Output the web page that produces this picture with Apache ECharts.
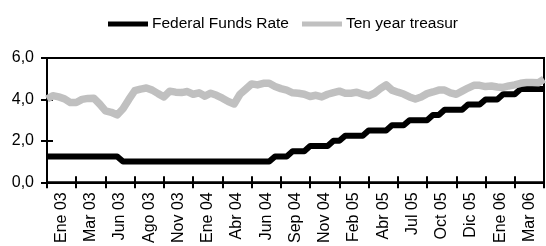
<!DOCTYPE html>
<html>
<head>
<meta charset="utf-8">
<script src="https://cdn.jsdelivr.net/npm/echarts@6/dist/echarts.min.js"></script>
<style>
html,body{margin:0;padding:0;background:#fff;}
#chart{width:546px;height:246px;}
</style>
</head>
<body>
<div id="chart"></div>
<script>
var monthLabels = ["Ene 03","Mar 03","Jun 03","Ago 03","Nov 03","Ene 04","Abr 04","Jun 04","Sep 04","Nov 04","Feb 05","Abr 05","Jul 05","Oct 05","Dic 05","Ene 06","Mar 06"];
var seriesNames = ["Federal Funds Rate","Ten year treasur"];
var seriesColors = ["#000000", "#c0c0c0"];
var yTicks = [0, 2, 4, 6];

var fedFunds = [
  1.25,1.25,1.25,1.25,1.25,1.25,1.25,1.25,1.25,1.25,1.25,1.25,1.25,
  1.0,1.0,1.0,1.0,1.0,1.0,1.0,1.0,1.0,1.0,1.0,1.0,1.0,1.0,1.0,1.0,1.0,1.0,1.0,1.0,1.0,1.0,1.0,1.0,1.0,1.0,
  1.25,1.25,1.25,
  1.5,1.5,1.5,
  1.75,1.75,1.75,1.75,
  2.0,2.0,
  2.25,2.25,2.25,2.25,
  2.5,2.5,2.5,2.5,
  2.75,2.75,2.75,
  3.0,3.0,3.0,3.0,
  3.25,3.25,
  3.5,3.5,3.5,3.5,
  3.75,3.75,3.75,
  4.0,4.0,4.0,
  4.25,4.25,4.25,
  4.5,4.5,4.5,4.5,4.5
];

var tenYear = [
  4.02,4.18,4.12,4.03,3.85,3.85,4.00,4.05,4.06,3.78,
  3.45,3.38,3.25,3.55,4.00,4.42,4.50,4.55,4.45,4.28,
  4.12,4.40,4.35,4.33,4.38,4.25,4.32,4.16,4.30,4.20,
  4.06,3.90,3.78,4.25,4.50,4.75,4.70,4.78,4.78,4.62,
  4.52,4.45,4.32,4.30,4.25,4.14,4.20,4.12,4.25,4.33,
  4.40,4.30,4.30,4.35,4.25,4.18,4.30,4.52,4.70,4.45,
  4.35,4.26,4.12,4.02,4.12,4.28,4.36,4.45,4.45,4.32,
  4.25,4.40,4.55,4.68,4.68,4.62,4.65,4.60,4.58,4.65,
  4.70,4.78,4.82,4.82,4.80,4.98
];

var pointIndex = fedFunds.map(function (_, i) { return String(i); });
var FONT = 'Liberation Sans, Arial, sans-serif';

var chart = echarts.init(document.getElementById('chart'), null, {renderer: 'canvas'});
chart.setOption({
  animation: false,
  backgroundColor: '#fff',
  legend: {
    left: 103,
    top: 11,
    itemWidth: 40,
    itemHeight: 5,
    itemGap: 13,
    icon: 'rect',
    data: seriesNames.map(function (n, i) {
      return {name: n, icon: 'rect', itemStyle: {color: seriesColors[i], borderWidth: 0}, lineStyle: {width: 0, opacity: 0}};
    }),
    textStyle: {fontFamily: FONT, fontSize: 15.5, color: '#000', padding: [0, 0, 0, -1]}
  },
  grid: {
    left: 47, right: 2, top: 58, bottom: 57,
    show: true, borderColor: '#000', borderWidth: 2, backgroundColor: 'transparent'
  },
  xAxis: [
    {
      type: 'category',
      data: pointIndex,
      boundaryGap: false,
      position: 'bottom',
      axisLine: {show: true, lineStyle: {color: '#000', width: 2}},
      axisTick: {show: true, inside: true, length: 6, interval: 4, lineStyle: {color: '#000', width: 2}},
      axisLabel: {show: false},
      splitLine: {show: false}
    },
    {
      type: 'category',
      data: monthLabels,
      boundaryGap: true,
      position: 'bottom',
      axisLine: {show: true, lineStyle: {color: '#000', width: 2}},
      axisTick: {show: true, inside: false, length: 6, interval: 0, lineStyle: {color: '#000', width: 2}},
      axisLabel: {show: true, interval: 0, rotate: 90, margin: 10, fontFamily: FONT, fontSize: 16, color: '#000'},
      splitLine: {show: false}
    }
  ],
  yAxis: [
    {
      type: 'value',
      min: yTicks[0], max: yTicks[yTicks.length - 1], interval: 2,
      position: 'left',
      axisLine: {show: true, lineStyle: {color: '#000', width: 2}},
      axisTick: {show: true, inside: false, length: 6, lineStyle: {color: '#000', width: 2}},
      axisLabel: {
        margin: 13, fontFamily: FONT, fontSize: 16, color: '#000',
        formatter: function (v) { return v.toFixed(1).replace('.', ','); }
      },
      splitLine: {show: false}
    },
    {
      type: 'value',
      min: yTicks[0], max: yTicks[yTicks.length - 1], interval: 2,
      position: 'left',
      axisLine: {show: false},
      axisTick: {show: true, inside: true, length: 6, lineStyle: {color: '#000', width: 2}},
      axisLabel: {show: false},
      splitLine: {show: false}
    }
  ],
  series: [
    {
      name: seriesNames[0],
      type: 'line',
      xAxisIndex: 0, yAxisIndex: 0,
      data: fedFunds,
      showSymbol: false,
      color: seriesColors[0],
      itemStyle: {color: seriesColors[0], borderWidth: 0},
      lineStyle: {color: seriesColors[0], width: 6, join: 'round'}
    },
    {
      name: seriesNames[1],
      type: 'line',
      xAxisIndex: 0, yAxisIndex: 0,
      data: tenYear,
      showSymbol: false,
      color: seriesColors[1],
      itemStyle: {color: seriesColors[1], borderWidth: 0},
      lineStyle: {color: seriesColors[1], width: 7.5, join: 'round'}
    }
  ]
});
</script>
</body>
</html>
